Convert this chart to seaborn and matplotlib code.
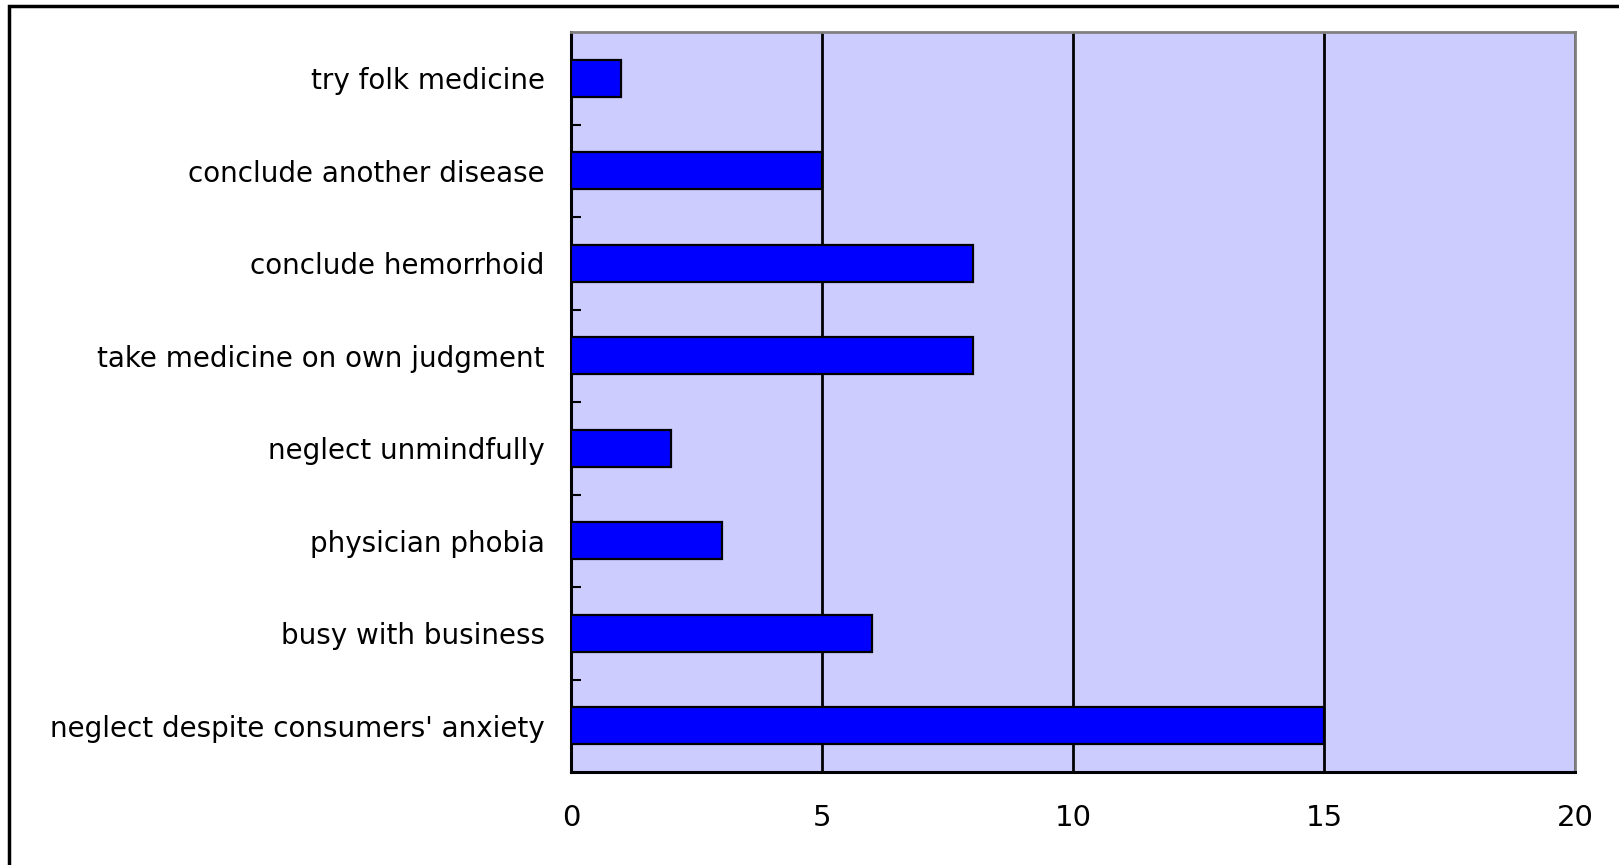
import matplotlib
matplotlib.use("Agg")
import matplotlib.pyplot as plt
from matplotlib.patches import Rectangle
import seaborn as sns
import pandas as pd

categories = [
    "try folk medicine",
    "conclude another disease",
    "conclude hemorrhoid",
    "take medicine on own judgment",
    "neglect unmindfully",
    "physician phobia",
    "busy with business",
    "neglect despite consumers' anxiety",
]
counts = [1, 5, 8, 8, 2, 3, 6, 15]
x_ticks = [0, 5, 10, 15, 20]

df = pd.DataFrame({"reason": categories, "count": counts})

sns.set_theme(style="white")
plt.rcParams['font.family'] = ['DejaVu Sans']

fig = plt.figure(figsize=(16.19, 8.65), dpi=100)
ax = fig.add_axes([571 / 1619, 1 - 772 / 865, 1004 / 1619, 740 / 865])
ax.set_facecolor("#CCCCFF")

sns.barplot(data=df, x="count", y="reason", order=categories, orient="h",
            color="#0000FF", saturation=1, width=0.4,
            edgecolor="black", linewidth=1.6, ax=ax, zorder=3)

ax.set_xlim(0, 20)
ax.set_ylim(len(categories) - 0.5, -0.5)
ax.set_xticks(x_ticks)
ax.set_xticklabels([str(t) for t in x_ticks])
ax.xaxis.grid(True, color="black", linewidth=2, zorder=1)
ax.set_axisbelow(True)
ax.set_xlabel("")
ax.set_ylabel("")

# boundary ticks between categories, pointing into the plot
ax.set_yticks([i + 0.5 for i in range(len(categories) - 1)], minor=True)
ax.tick_params(axis="y", which="minor", direction="in", length=7, width=1.5,
               color="black", left=True)
ax.tick_params(axis="y", which="major", length=0, pad=19, labelsize=20,
               labelcolor="black")
ax.tick_params(axis="x", which="major", length=0, pad=23, labelsize=21,
               labelcolor="black")

for side in ["left", "bottom"]:
    ax.spines[side].set_color("black")
    ax.spines[side].set_linewidth(2.2)
for side in ["top", "right"]:
    ax.spines[side].set_color("#808080")
    ax.spines[side].set_linewidth(2)

# outer chart frame
fig.patches.append(Rectangle((9 / 1619, -0.1), 1.2, 1 - 6 / 865 + 0.1,
                             transform=fig.transFigure, fill=False,
                             edgecolor="black", linewidth=2.5))

fig.savefig("out.png", dpi=100, facecolor="white")
